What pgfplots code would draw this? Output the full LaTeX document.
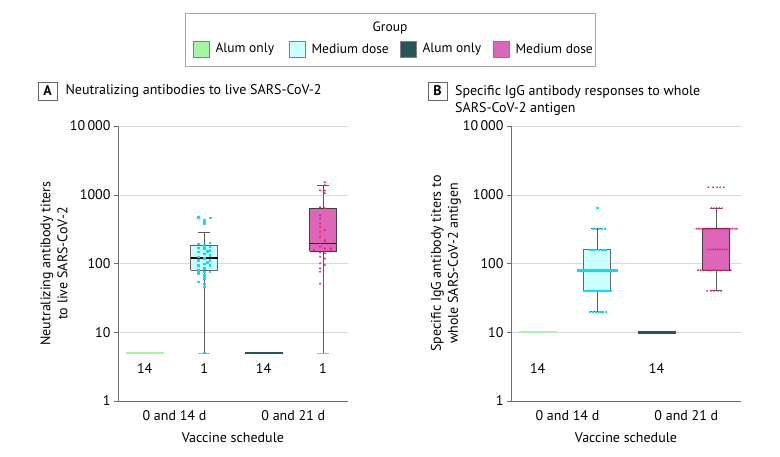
\documentclass[border=0pt]{standalone}
\usepackage{pgfplots}
\pgfplotsset{compat=1.18}
\usepackage{fontspec}
\setmainfont{PT Sans}
\newcommand\F{\fontsize{14pt}{17pt}\selectfont}
\newcommand\FL{\fontsize{13.5pt}{16pt}\selectfont}
\definecolor{alumlight}{RGB}{165,245,165}
\definecolor{alumdark}{RGB}{40,85,85}
\definecolor{medlight}{RGB}{204,255,255}
\definecolor{medpink}{RGB}{221,102,187}
\definecolor{cyandot}{RGB}{0,225,250}
\definecolor{pinkdot}{RGB}{230,30,100}
\definecolor{axgray}{RGB}{110,110,110}
\definecolor{whisk}{RGB}{90,90,90}

\pgfplotsset{
    scale only axis, width=230pt, height=275pt,
    ymin=1, ymax=10000,
    xmin=0.55, xmax=4.42,
    axis lines=left, axis line style={-, draw=axgray},
    yminorticks=false,
    xtick style={draw=none},
    ytick style={draw=axgray},
    tick align=outside, major tick length=4pt,
    ymajorgrids, major grid style={draw=gray!30},
    clip=false,
}

\begin{document}
\begin{tikzpicture}
\path[use as bounding box] (0pt,0pt) rectangle (780pt,456pt);

% Legend
\draw[gray!70] (185pt,390pt) rectangle (595pt,443pt);
\node[font=\FL] at (390pt,428pt) {Group};
\draw[fill=alumlight, draw=gray] (193pt,399pt) rectangle (209pt,415pt);
\node[font=\FL, anchor=west] at (212pt,407pt) {Alum only};
\draw[fill=medlight, draw=gray] (289pt,399pt) rectangle (305pt,415pt);
\node[font=\FL, anchor=west] at (308pt,407pt) {Medium dose};
\draw[fill=alumdark, draw=gray] (400pt,399pt) rectangle (416pt,415pt);
\node[font=\FL, anchor=west] at (419pt,407pt) {Alum only};
\draw[fill=medpink, draw=gray] (493pt,399pt) rectangle (509pt,415pt);
\node[font=\FL, anchor=west] at (512pt,407pt) {Medium dose};

% Panel titles
\draw[gray!80!black] (38pt,356pt) rectangle (57pt,374pt);
\node[font=\F\bfseries] at (47.5pt,365pt) {A};
\node[font=\F, anchor=west] at (62pt,365pt) {Neutralizing antibodies to live SARS-CoV-2};
\draw[gray!80!black] (428pt,356pt) rectangle (447pt,374pt);
\node[font=\F\bfseries] at (437.5pt,365pt) {B};
\node[font=\F, anchor=north west, align=left, inner sep=0pt] at (455pt,371pt) {Specific IgG antibody responses to whole\\SARS-CoV-2 antigen};

% ---------------- Panel A ----------------
\begin{axis}[at={(118pt,55pt)}, anchor=south west, ymode=log,
  ytick={1,10,100,1000,10000},
  yticklabels={1,10,100,1000,10\,000},
  xtick={1.5,3.5},
  xticklabels={0 and 14 d,0 and 21 d},
  tick label style={font=\F},
  xticklabel style={yshift=-2pt},
  xlabel={Vaccine schedule},
  xlabel style={font=\F, at={(axis description cs:0.5,-0.135)}, anchor=center},
  ylabel={Neutralizing antibody titers\\to live SARS-CoV-2},
  ylabel style={font=\F, align=center, anchor=center, at={(axis description cs:-0.278,0.5)}}]
\addplot[alumlight, line width=2pt] coordinates {(0.68,5) (1.32,5)};
\addplot[alumdark, line width=2.6pt] coordinates {(2.68,5) (3.32,5)};
% box 14 d medium
\addplot[whisk, line width=0.8pt] coordinates {(2,5) (2,80)};
\addplot[whisk, line width=0.8pt] coordinates {(2,186) (2,282)};
\addplot[gray!60, line width=0.8pt] coordinates {(1.9,5) (2.1,5)};
\addplot[whisk, line width=0.8pt] coordinates {(1.9,282) (2.1,282)};
\addplot[draw=gray!80!black, fill=medlight, line width=0.8pt] coordinates {(1.775,80) (2.225,80) (2.225,186) (1.775,186) (1.775,80)};
\addplot[black, line width=1.2pt] coordinates {(1.775,120) (2.225,120)};
% box 21 d medium
\addplot[whisk, line width=0.8pt] coordinates {(4,5) (4,150)};
\addplot[whisk, line width=0.8pt] coordinates {(4,630) (4,1365)};
\addplot[gray!60, line width=0.8pt] coordinates {(3.9,5) (4.1,5)};
\addplot[whisk, line width=0.8pt] coordinates {(3.9,1365) (4.1,1365)};
\addplot[draw=black!75, fill=medpink, line width=0.8pt] coordinates {(3.775,150) (4.225,150) (4.225,630) (3.775,630) (3.775,150)};
\addplot[black, line width=1.2pt] coordinates {(3.775,196) (4.225,196)};
\addplot[only marks, mark=square*, mark size=0.7pt, color=cyandot] table {
1.90 472
2.00 427
2.00 386
2.10 460
1.90 196
1.90 171
1.90 148
1.90 125
1.90 112
1.90 95
1.90 80
1.90 72
1.90 54
2.00 185
2.00 166
2.00 140
2.00 119
2.00 100
2.00 85
2.00 76
2.00 68
2.00 61
2.00 51
2.00 46
2.09 200
2.09 175
2.09 157
2.09 132
2.09 112
2.09 95
2.09 76
2.05 150
2.05 105
2.00 5
};
\addplot[only marks, mark=triangle*, mark size=0.9pt, color=pinkdot] table {
4.03 1520
4.03 1380
3.95 1160
4.03 1150
4.03 1050
3.95 660
4.03 640
3.95 505
3.95 452
3.95 383
3.95 343
4.03 306
3.95 289
3.95 245
4.03 219
4.03 207
3.95 196
3.95 175
4.03 166
4.13 166
3.85 157
4.13 157
3.95 145
4.03 150
4.03 140
3.95 125
4.03 118
3.95 100
4.03 95
3.95 85
3.95 76
3.95 51
};
\node[font=\F] at (axis cs:1,3) {14};
\node[font=\F] at (axis cs:2,3) {1};
\node[font=\F] at (axis cs:3,3) {14};
\node[font=\F] at (axis cs:4,3) {1};
\end{axis}

% ---------------- Panel B ----------------
\begin{axis}[at={(511pt,55pt)}, anchor=south west, ymode=log,
  ytick={1,10,100,1000,10000},
  yticklabels={1,10,100,1000,10\,000},
  xtick={1.5,3.5},
  xticklabels={0 and 14 d,0 and 21 d},
  tick label style={font=\F},
  xticklabel style={yshift=-2pt},
  xlabel={Vaccine schedule},
  xlabel style={font=\F, at={(axis description cs:0.5,-0.135)}, anchor=center},
  ylabel={Specific IgG antibody titers to\\whole SARS-CoV-2 antigen},
  ylabel style={font=\F, align=center, anchor=center, at={(axis description cs:-0.283,0.5)}}]
\addplot[alumlight, line width=2pt] coordinates {(0.68,10) (1.32,10)};
\addplot[alumdark, line width=2.6pt] coordinates {(2.68,10) (3.32,10)};
% box 14 d medium
\addplot[whisk, line width=0.8pt] coordinates {(2,20) (2,40)};
\addplot[whisk, line width=0.8pt] coordinates {(2,160) (2,320)};
\addplot[whisk, line width=0.8pt] coordinates {(1.9,20) (2.1,20)};
\addplot[whisk, line width=0.8pt] coordinates {(1.9,320) (2.1,320)};
\addplot[draw=gray!80!black, fill=medlight, line width=0.8pt] coordinates {(1.775,40) (2.225,40) (2.225,160) (1.775,160) (1.775,40)};
\addplot[black, line width=1.2pt] coordinates {(1.775,80) (2.225,80)};
% box 21 d medium
\addplot[whisk, line width=0.8pt] coordinates {(4,40) (4,80)};
\addplot[whisk, line width=0.8pt] coordinates {(4,320) (4,640)};
\addplot[whisk, line width=0.8pt] coordinates {(3.9,40) (4.1,40)};
\addplot[whisk, line width=0.8pt] coordinates {(3.9,640) (4.1,640)};
\addplot[draw=black!75, fill=medpink, line width=0.8pt] coordinates {(3.775,80) (4.225,80) (4.225,320) (3.775,320) (3.775,80)};
\addplot[black, line width=1.2pt] coordinates {(3.775,320) (4.225,320)};
\addplot[only marks, mark=square*, mark size=0.55pt, color=cyandot] table {
1.87 20
1.92 20
1.97 20
2.02 20
2.06 20
2.10 20
2.15 20
1.78 40
1.815 40
1.85 40
1.885 40
1.92 40
1.955 40
1.99 40
2.025 40
2.06 40
2.095 40
2.13 40
2.165 40
2.20 40
2.235 40
1.68 80
1.714 80
1.748 80
1.782 80
1.816 80
1.85 80
1.884 80
1.918 80
1.952 80
1.986 80
2.02 80
2.054 80
2.088 80
2.122 80
2.156 80
2.19 80
2.224 80
2.258 80
2.292 80
2.326 80
1.87 160
1.91 160
1.95 160
2.03 160
2.07 160
2.11 160
2.15 160
1.92 320
1.97 320
2.02 320
2.07 320
2.12 320
2.00 640
};
\addplot[only marks, mark=triangle*, mark size=0.8pt, color=pinkdot] table {
3.85 40
3.91 40
3.97 40
4.03 40
4.09 40
3.70 80
3.742 80
3.784 80
3.826 80
3.868 80
3.91 80
3.952 80
3.994 80
4.036 80
4.078 80
4.12 80
4.162 80
4.204 80
4.246 80
3.87 160
3.909 160
3.948 160
3.987 160
4.026 160
4.065 160
4.104 160
4.143 160
4.182 160
3.67 320
3.70 320
3.73 320
3.77 320
3.80 320
3.83 320
3.86 320
3.90 320
3.93 320
3.96 320
3.99 320
4.02 320
4.06 320
4.09 320
4.12 320
4.15 320
4.19 320
4.22 320
4.25 320
4.28 320
4.32 320
4.35 320
3.92 640
3.965 640
4.01 640
4.055 640
4.10 640
3.87 1280
3.95 1280
4.02 1280
4.07 1280
4.13 1280
};
\node[font=\F] at (axis cs:1,3) {14};
\node[font=\F] at (axis cs:3,3) {14};
\end{axis}
\end{tikzpicture}
\end{document}
